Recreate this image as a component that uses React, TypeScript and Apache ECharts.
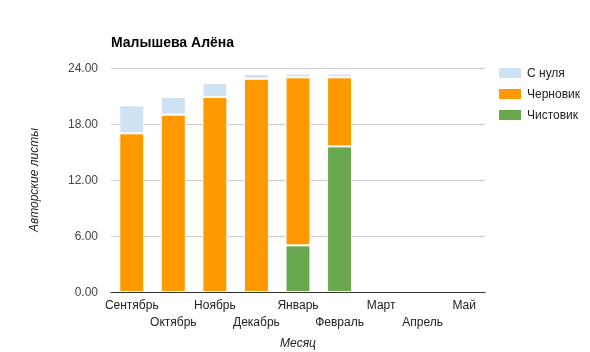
import React, { useEffect, useRef } from "react";
import * as echarts from "echarts";

const months = ["Сентябрь", "Октябрь", "Ноябрь", "Декабрь", "Январь", "Февраль", "Март", "Апрель", "Май"];
const fromScratch = [3.0, 1.9, 1.5, 0.5, 0.4, 0.4, 0, 0, 0];
const draft = [17.0, 19.0, 20.9, 22.85, 18.0, 7.4, 0, 0, 0];
const clean = [0, 0, 0, 0, 5.0, 15.6, 0, 0, 0];
const yTicks = [0, 6, 12, 18, 24];

const FONT = 'Arial, "Liberation Sans", sans-serif';

const toBar = (arr: number[]) => arr.map((v) => (v === 0 ? "-" : v));

export default function App() {
  const ref = useRef<HTMLDivElement>(null);
  useEffect(() => {
    if (!ref.current) return;
    const chart = echarts.init(ref.current, undefined, { renderer: "svg" });
    const itemStyleBase = { borderColor: "#ffffff", borderWidth: 1 };
    chart.setOption({
      animation: false,
      textStyle: { fontFamily: FONT },
      title: {
        text: "Малышева Алёна",
        left: 111,
        top: 35,
        padding: 0,
        textStyle: { fontFamily: FONT, fontSize: 14, fontWeight: "bold", color: "#000000" },
      },
      legend: {
        orient: "vertical",
        left: 497,
        top: 66,
        padding: 0,
        itemWidth: 24,
        itemHeight: 12,
        itemGap: 7,
        icon: "rect",
        data: ["С нуля", "Черновик", "Чистовик"],
        textStyle: { fontFamily: FONT, fontSize: 12, color: "#222222" },
      },
      grid: {
        left: 111,
        right: 105,
        top: 68,
        bottom: 60,
        containLabel: false,
        outerBoundsMode: "none",
      },
      xAxis: {
        type: "category",
        data: months,
        z: 3,
        name: "Месяц",
        nameLocation: "middle",
        nameGap: 45,
        nameMoveOverlap: false,
        nameTextStyle: { fontFamily: FONT, fontSize: 12, fontStyle: "italic", color: "#222222" },
        axisLine: { lineStyle: { color: "#333333", width: 1 } },
        axisTick: { show: false },
        axisLabel: {
          interval: 0,
          margin: 4,
          fontSize: 12,
          color: "#222222",
          lineHeight: 17,
          formatter: (v: string, i: number) => (i % 2 === 1 ? "\n" + v : v),
        },
      },
      yAxis: {
        type: "value",
        min: yTicks[0],
        max: yTicks[yTicks.length - 1],
        interval: 6,
        name: "Авторские листы",
        nameLocation: "middle",
        nameGap: 71,
        nameMoveOverlap: false,
        nameTextStyle: { fontFamily: FONT, fontSize: 12, fontStyle: "italic", color: "#222222" },
        axisLine: { show: false },
        axisTick: { show: false },
        axisLabel: {
          fontSize: 12,
          color: "#444444",
          margin: 13,
          formatter: (v: number) => v.toFixed(2),
        },
        splitLine: { lineStyle: { color: "#cccccc", width: 1 } },
      },
      series: [
        {
          name: "Чистовик",
          type: "bar",
          stack: "total",
          barWidth: "60%",
          data: toBar(clean),
          itemStyle: { ...itemStyleBase, color: "#6aa84f" },
        },
        {
          name: "Черновик",
          type: "bar",
          stack: "total",
          barWidth: "60%",
          data: toBar(draft),
          itemStyle: { ...itemStyleBase, color: "#ff9900" },
        },
        {
          name: "С нуля",
          type: "bar",
          stack: "total",
          barWidth: "60%",
          data: toBar(fromScratch),
          itemStyle: { ...itemStyleBase, color: "#cfe2f3" },
        },
      ],
    });
    return () => chart.dispose();
  }, []);
  return (
    <div
      ref={ref}
      style={{ position: "fixed", left: 0, top: 0, width: 590, height: 352 }}
    />
  );
}
